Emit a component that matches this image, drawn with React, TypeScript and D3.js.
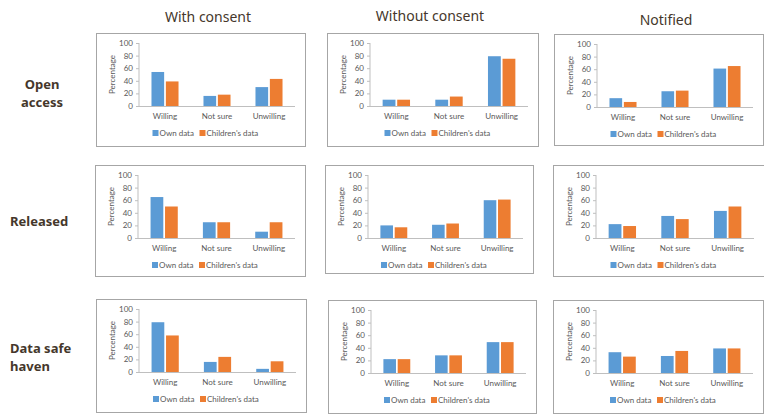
import React from 'react';
import * as d3 from 'd3';

const columnHeaders = ['With consent', 'Without consent', 'Notified'];
const rowLabels = [['Open', 'access'], ['Released'], ['Data safe', 'haven']];
const categories = ['Willing', 'Not sure', 'Unwilling'];
const seriesNames = ['Own data', "Children's data"];
const yTicks = [0, 20, 40, 60, 80, 100];

// values per column (with consent, without consent, notified), per category
const openAccessOwn = [[54, 16, 30], [10, 10, 79], [14, 25, 61]];
const openAccessChildren = [[39, 18, 43], [10, 15, 75], [8, 26, 65]];
const releasedOwn = [[65, 25, 10], [20, 21, 60], [22, 35, 43]];
const releasedChildren = [[50, 25, 25], [17, 23, 61], [19, 30, 50]];
const safeHavenOwn = [[79, 16, 5], [22, 28, 49], [33, 27, 39]];
const safeHavenChildren = [[58, 24, 17], [22, 28, 49], [26, 35, 39]];

const ownRows = [openAccessOwn, releasedOwn, safeHavenOwn];
const childRows = [openAccessChildren, releasedChildren, safeHavenChildren];

const colors = ['#5B9BD5', '#ED7D31'];
const textColor = '#45372b';
const chartFont = 'Lato, "Noto Sans", sans-serif';

// panel frames [x, y, w, h]
const frames = [
  [[96, 33, 209, 113], [327, 33, 211, 113], [554, 34, 209, 111]],
  [[95, 165, 210, 111], [325, 165, 208, 108], [553, 165, 211, 111]],
  [[96, 299, 210, 113], [328, 300, 208, 113], [553, 300, 210, 113]],
];

const Panel = ({ frame, own, children }) => {
  const [bx, by, bw, bh] = frame;
  const left = bx + 43;
  const right = bx + bw - 10;
  const y0 = by + 73;
  const y100 = by + 10;
  const x = d3.scaleBand().domain(categories).range([left, right]).paddingInner(0.48).paddingOuter(0.24);
  const inner = d3.scaleBand().domain(seriesNames).range([0, x.bandwidth()]).paddingInner(0.12);
  const y = d3.scaleLinear().domain([0, 100]).range([y0, y100]);
  const vals = [own, children];
  const cx = bx + bw / 2 + 2;
  return (
    <g>
      <rect x={bx + 0.5} y={by + 0.5} width={bw} height={bh} fill="#fff" stroke="#a6a6a6" />
      {seriesNames.map((s, si) =>
        categories.map((c, ci) => (
          <rect
            key={s + c}
            x={x(c) + inner(s)}
            y={y(vals[si][ci])}
            width={inner.bandwidth()}
            height={y0 - y(vals[si][ci])}
            fill={colors[si]}
          />
        ))
      )}
      <line x1={left} x2={left} y1={y100} y2={y0} stroke="#bfbfbf" />
      <line x1={left} x2={right} y1={y0 + 0.5} y2={y0 + 0.5} stroke="#bfbfbf" />
      {yTicks.map((t) => (
        <g key={t}>
          <line x1={left - 3} x2={left} y1={y(t) + 0.5} y2={y(t) + 0.5} stroke="#bfbfbf" />
          <text x={left - 6} y={y(t) + 3} textAnchor="end" fontSize={8} fill="#595959" fontFamily={chartFont}>
            {t}
          </text>
        </g>
      ))}
      {categories.map((c) => (
        <text key={c} x={x(c) + x.bandwidth() / 2} y={y0 + 13} textAnchor="middle" fontSize={8} fill="#595959" fontFamily={chartFont}>
          {c}
        </text>
      ))}
      <text
        transform={`translate(${left - 24},${(y0 + y100) / 2}) rotate(-90)`}
        textAnchor="middle"
        fontSize={8}
        fill="#595959"
        fontFamily={chartFont}
      >
        Percentage
      </text>
      <rect x={cx - 50} y={y0 + 24} width={6} height={6} fill={colors[0]} />
      <text x={cx - 43} y={y0 + 30} fontSize={8} fill="#595959" fontFamily={chartFont}>
        {seriesNames[0]}
      </text>
      <rect x={cx - 3} y={y0 + 24} width={6} height={6} fill={colors[1]} />
      <text x={cx + 4} y={y0 + 30} fontSize={8} fill="#595959" fontFamily={chartFont}>
        {seriesNames[1]}
      </text>
    </g>
  );
};

const App = () => {
  const headerX = [208, 430, 666];
  const headerY = [22, 21, 25];
  const labelY = [[89, 107], [226], [353, 371]];
  const labelX = [42, 10, 10];
  const labelAnchor = ['middle', 'start', 'start'];
  return (
    <svg width={764} height={415} style={{ position: 'absolute', left: 0, top: 0, background: '#fff' }}>
      <rect width={764} height={415} fill="#fff" />
      {columnHeaders.map((h, i) => (
        <text key={h} x={headerX[i]} y={headerY[i]} textAnchor="middle" fontSize={14} fill={textColor} fontFamily='"Noto Sans", sans-serif'>
          {h}
        </text>
      ))}
      {rowLabels.map((lines, r) =>
        lines.map((l, li) => (
          <text
            key={l}
            x={labelX[r]}
            y={labelY[r][li]}
            textAnchor={labelAnchor[r]}
            fontSize={13}
            fontWeight="bold"
            fill={textColor}
            fontFamily='"Noto Sans", sans-serif'
          >
            {l}
          </text>
        ))
      )}
      {frames.map((row, r) =>
        row.map((f, c) => <Panel key={`${r}-${c}`} frame={f} own={ownRows[r][c]} children={childRows[r][c]} />)
      )}
    </svg>
  );
};

export default App;
